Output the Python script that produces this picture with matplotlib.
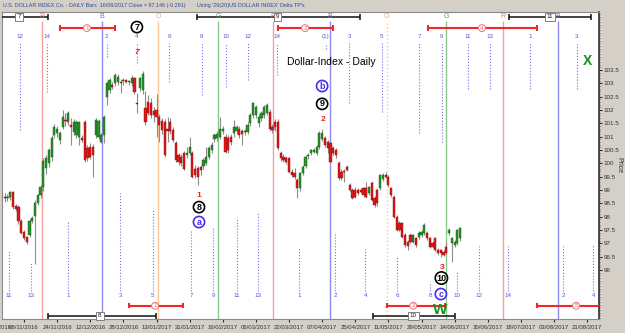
import numpy as np
import matplotlib.pyplot as plt

plt.rcParams['font.family'] = ['Liberation Sans', 'DejaVu Sans']

# daily bars, first bar sits 8 sessions before 08/11/2016
first_bar = -8
opens = [98.72, 98.74, 98.70, 98.72, 98.92, 98.40, 98.36, 97.82, 97.42, 97.22, 97.30, 97.84,
         98.02, 98.50, 98.80, 99.10, 99.82, 100.00, 100.25, 101.06, 101.13, 100.88, 101.38, 101.62,
         101.56, 101.42, 101.19, 101.06, 101.00, 100.94, 101.56, 100.56, 100.63, 100.60, 101.06, 101.00,
         100.81, 101.06, 102.50, 102.75, 102.92, 103.00, 103.06, 103.06, 103.08, 103.12, 103.04, 103.00,
         103.19, 102.28, 102.81, 102.75, 102.06, 102.30, 102.25, 101.95,
         102.00, 101.75, 101.60, 101.56, 101.30, 101.56, 101.25, 100.75, 100.30, 100.25, 100.38, 100.30,
         100.40, 100.38, 99.80, 99.81, 99.88, 99.90, 100.00, 100.25, 100.50, 100.90, 100.95, 101.00,
         101.20, 101.00, 100.94, 100.98, 101.13, 101.20, 101.30, 101.20, 101.18, 101.19, 101.50, 101.80,
         101.80, 101.50, 101.70, 101.80, 101.88, 101.94, 101.38, 101.56, 101.56, 100.38, 100.25, 100.19,
         100.19, 99.69, 99.63, 99.38, 99.06, 99.63, 99.90,
         100.28, 100.38, 100.44, 100.40, 100.63, 100.90, 100.94, 100.81, 100.75, 100.56, 100.50, 100.00,
         99.69, 99.72, 99.88, 99.19, 99.00, 99.00, 99.00, 99.00, 99.06, 99.06, 98.90, 99.25,
         98.70, 99.00, 99.06, 99.40, 99.56, 99.50, 99.06, 98.75, 98.00, 97.75, 97.75, 97.30,
         97.06, 97.30, 97.06, 97.19, 97.25, 97.30, 97.38, 97.38, 97.19, 97.00, 97.19, 96.75,
         96.75, 96.69, 96.88, 97.40, 97.00, 96.94, 97.00, 97.19]
highs = [98.85, 98.88, 98.85, 98.98, 98.98, 98.48, 98.42, 97.90, 97.50, 97.28, 97.92, 98.02,
         98.62, 98.86, 99.18, 100.20, 100.30, 100.58, 101.05, 101.48, 101.40, 101.20, 102.00, 101.90,
         101.95, 101.70, 101.65, 101.62, 101.60, 101.05, 101.62, 100.70, 100.75, 100.72, 101.70, 101.68,
         101.12, 101.80, 103.05, 103.20, 103.05, 103.40, 103.35, 103.15, 103.20, 103.18, 103.12, 103.30,
         103.25, 102.65, 103.25, 103.45, 102.70, 102.55, 102.45, 102.10,
         102.60, 101.85, 101.70, 101.65, 101.75, 101.70, 101.35, 100.85, 100.40, 100.35, 100.48, 100.63,
         101.00, 100.45, 99.95, 99.90, 99.95, 100.20, 100.60, 100.65, 100.80, 101.12, 101.20, 101.75,
         101.40, 101.10, 101.05, 101.10, 101.63, 101.45, 101.40, 101.28, 101.30, 101.55, 101.90, 102.30,
         102.20, 101.85, 101.95, 102.20, 102.25, 102.05, 101.48, 101.65, 101.65, 100.48, 100.35, 100.28,
         100.25, 99.78, 99.81, 99.45, 99.68, 99.95, 100.30,
         100.40, 100.55, 100.58, 100.68, 101.20, 101.28, 101.02, 100.88, 100.82, 100.65, 100.58, 100.08,
         99.78, 99.80, 99.95, 99.25, 99.08, 99.10, 99.08, 99.06, 99.12, 99.30, 99.15, 99.32,
         98.78, 99.08, 99.60, 99.62, 99.69, 99.58, 99.12, 98.82, 98.08, 97.82, 97.80, 97.38,
         97.12, 97.38, 97.36, 97.25, 97.45, 97.50, 97.75, 97.45, 97.25, 97.08, 97.25, 96.82,
         96.80, 96.75, 97.06, 97.58, 97.25, 97.12, 97.55, 97.60]
lows = [98.60, 98.55, 98.58, 98.62, 98.30, 98.22, 97.72, 97.34, 97.14, 96.98, 97.22, 97.76,
        96.24, 98.42, 98.70, 98.95, 99.60, 99.88, 100.10, 100.95, 101.00, 100.72, 101.30, 101.40,
        101.45, 100.70, 101.05, 100.95, 100.70, 100.80, 100.05, 100.10, 100.15, 99.50, 100.95, 100.90,
        100.75, 100.75, 102.19, 102.65, 102.80, 102.90, 102.95, 102.63, 102.95, 103.00, 102.95, 102.90,
        102.60, 101.90, 102.70, 102.60, 101.45, 101.80, 101.70, 101.55,
        101.00, 100.80, 101.10, 100.25, 100.80, 101.10, 100.80, 100.05, 99.95, 99.90, 99.75, 100.20,
        100.30, 99.45, 99.45, 99.19, 99.55, 99.80, 99.92, 100.15, 100.40, 100.80, 100.85, 100.90,
        101.10, 100.38, 100.40, 100.70, 101.00, 101.10, 100.95, 100.70, 101.05, 101.10, 101.40, 101.70,
        101.70, 101.38, 101.60, 101.70, 101.80, 101.20, 101.15, 101.20, 100.50, 100.10, 100.05, 99.98,
        99.62, 99.48, 99.42, 98.69, 98.98, 99.55, 99.82,
        100.15, 100.30, 100.38, 100.32, 100.55, 100.82, 100.62, 100.40, 100.00, 100.30, 100.20, 99.38,
        99.38, 99.30, 99.70, 98.95, 98.65, 98.70, 98.82, 98.88, 98.75, 98.70, 98.82, 98.58,
        98.38, 98.40, 99.00, 99.35, 99.45, 99.12, 98.75, 97.95, 97.45, 97.45, 97.20, 96.88,
        96.75, 97.00, 97.00, 96.88, 97.18, 97.22, 97.30, 97.12, 96.82, 96.82, 96.70, 96.58,
        96.50, 96.52, 96.58, 97.32, 96.30, 96.88, 96.95, 97.10]
closes = [98.74, 98.70, 98.72, 98.92, 98.38, 98.30, 97.82, 97.40, 97.20, 97.05, 97.82, 97.94,
          98.52, 98.80, 99.10, 100.10, 100.20, 100.50, 100.94, 101.38, 101.30, 101.13, 101.75, 101.58,
          101.88, 101.38, 101.56, 101.56, 101.56, 100.88, 100.13, 100.19, 100.25, 100.30, 101.63, 101.60,
          101.06, 101.75, 103.00, 103.12, 102.88, 103.31, 103.25, 103.02, 103.10, 103.05, 103.06, 103.19,
          102.69, 102.22, 103.19, 103.36, 101.56, 101.90, 101.81, 101.80,
          101.75, 101.45, 101.25, 100.30, 101.20, 101.20, 100.88, 100.13, 100.06, 100.00, 99.80, 100.40,
          100.60, 99.50, 99.55, 99.50, 99.75, 100.13, 100.25, 100.56, 100.70, 101.06, 101.10, 101.30,
          101.30, 100.44, 100.50, 100.81, 101.38, 101.38, 101.06, 101.10, 101.20, 101.44, 101.80, 102.25,
          102.10, 101.75, 101.88, 102.10, 102.19, 101.30, 101.25, 101.38, 100.56, 100.19, 100.13, 100.06,
          99.69, 99.56, 99.50, 99.06, 99.63, 99.88, 100.25,
          100.32, 100.50, 100.50, 100.63, 101.13, 101.13, 100.69, 100.56, 100.06, 100.38, 100.30, 99.44,
          99.44, 99.68, 99.75, 99.00, 98.70, 98.75, 98.88, 98.94, 98.81, 98.75, 99.10, 98.63,
          98.44, 98.50, 99.56, 99.56, 99.50, 99.19, 98.81, 98.00, 97.50, 97.50, 97.25, 96.94,
          96.90, 97.06, 97.30, 96.94, 97.38, 97.44, 97.70, 97.19, 96.88, 96.88, 96.75, 96.63,
          96.63, 96.56, 96.63, 97.50, 97.19, 97.06, 97.50, 97.56]

# date axis: one label every 12 sessions
date_ticks = list(range(0, 205, 12))
date_labels = ['08/11/2016', '24/11/2016', '12/12/2016', '28/12/2016', '13/01/2017', '31/01/2017',
               '16/02/2017', '06/03/2017', '22/03/2017', '07/04/2017', '25/04/2017', '11/05/2017',
               '29/05/2017', '14/06/2017', '30/06/2017', '18/07/2017', '03/08/2017', '21/08/2017']
price_ticks = [96, 96.5, 97, 97.5, 98, 98.5, 99, 99.5, 100, 100.5, 101, 101.5, 102, 102.5, 103, 103.5]

# cycle lines (bar position, letter)
cycle_pos = [6.4, 28.2, 48.6, 70.3, 90.2, 110.9, 131.4, 152.9, 173.6, 193.5]
cycle_letters = ['R', 'B', 'O', 'G', 'R', 'B', 'O', 'G', 'R', 'B']
cycle_colors = {'R': '#f4a0a0', 'B': '#8c8cf0', 'O': '#f9c89a', 'G': '#8cc88c'}
cycle_text = {'R': '#f07070', 'B': '#6a6af0', 'O': '#f0a060', 'G': '#50a850'}

# delta turning points hanging from the top
top_tp_pos = [-1.4, 8.2, 30.0, 40.8, 52.5, 64.4, 73.2, 81.2, 91.7, 109.4, 117.8, 129.6, 143.1,
              151.3, 160.9, 168.8, 183.3, 200.2]
top_tp_labels = ['12', '14', '2', '4', '6', '8', '10', '12', '14', '(1)', '3', '5', '7', '9',
                 '11', '13', '1', '3']
top_tp_end = [101.25, 102.68, 103.99, 103.76, 103.05, 102.56, 102.86, 103.13, 103.31, 104.3,
              102.26, 101.93, 101.14, 100.80, 102.79, 102.79, 102.79, 102.79]
# delta turning points standing on the bottom
bot_tp_pos = [-5.4, 2.5, 16.1, 34.8, 46.7, 60.5, 68.5, 77.2, 84.8, 99.6, 112.7, 123.6, 135.1,
              147.1, 156.9, 164.9, 175.4, 195.3, 206.2]
bot_tp_labels = ['11', '13', '1', '3', '5', '7', '9', '11', '13', '1', '2', '4', '6', '8', '10',
                 '12', '14', '2', '4']
bot_tp_end = [96.75, 96.26, 97.80, 98.89, 98.25, 97.50, 97.58, 97.99, 98.14, 96.83, 97.43, 96.79,
              96.49, 95.55, 95.93, 96.90, 96.90, 96.90, 96.94]

# range bars: (start, end, label position, label)
black_top = [(-9.0, 8.7, -1.8, '7'), (62.7, 121.7, 91.7, '9'), (175.7, 205.4, 190.6, '11')]
black_bot = [(8.7, 47.8, 27.5, '8'), (126.4, 156.2, 141.0, '10')]
red_top = [(13.0, 33.0, 22.8, '1'), (92.0, 112.0, 101.8, '2'), (146.4, 185.9, 165.9, '4')]
red_bot = [(38.0, 57.6, 47.5, '1'), (131.5, 152.5, 141.0, '3'), (185.9, 212.0, 200.0, '5')]

# wave counts
black_waves = [(40.9, 105.11, '7'), (63.4, 98.36, '8'), (108.0, 102.23, '9'), (151.2, 95.70, '10')]
blue_waves = [(63.4, 97.80, 'a'), (108.0, 102.90, 'b'), (151.0, 95.10, 'c')]
red_waves = [(40.9, 104.17, '7'), (63.4, 98.81, '1'), (108.3, 101.63, '2'), (151.4, 96.11, '3')]

fig = plt.figure(figsize=(6.25, 3.33), dpi=100, facecolor='#d4d0c8')
ax = fig.add_axes([2 / 625, 14 / 333, 597 / 625, 307 / 333])
ax.set_facecolor('white')
x0, x1 = -7.97, 208.3
y0, y1 = 94.164, 105.675
ax.set_xlim(x0, x1)
ax.set_ylim(y0, y1)

bars = np.arange(first_bar, first_bar + len(opens))
o = np.array(opens)
h = np.array(highs)
l = np.array(lows)
c = np.array(closes)

# cycle lines
for pos, let in zip(cycle_pos, cycle_letters):
    ls = ':' if (let == 'O' and pos > 100) else '-'
    ax.vlines(pos, y0, 105.34, colors=cycle_colors[let], lw=1.0, linestyles=ls, zorder=1)
    ax.text(pos, 105.49, let, color=cycle_text[let], fontsize=5, ha='center', va='center', zorder=6)

# dotted turning point markers
ax.vlines(top_tp_pos, top_tp_end, 104.52, colors='#6f6fee', lw=0.8, linestyles=':', zorder=1)
for pos, lab in zip(top_tp_pos, top_tp_labels):
    ax.text(pos, 104.74, lab, color='#5555e0', fontsize=4.5, ha='center', va='center')
ax.vlines(bot_tp_pos, 95.21, bot_tp_end, colors='#6f6fee', lw=0.8, linestyles=':', zorder=1)
for pos, lab in zip(bot_tp_pos, bot_tp_labels):
    ax.text(pos, 95.03, lab, color='#5555e0', fontsize=4.5, ha='center', va='center')

# candles
ax.vlines(bars, l, h, colors='#8c8c8c', lw=0.8, zorder=2)
up = c >= o
body_lo = np.minimum(o, c)
body_h = np.maximum(np.abs(c - o), 0.03)
ax.bar(bars[up], body_h[up], bottom=body_lo[up], width=0.8, color='#2a922a',
       edgecolor='#145814', lw=0.3, zorder=3)
ax.bar(bars[~up], body_h[~up], bottom=body_lo[~up], width=0.8, color='#e01818',
       edgecolor='#8a0c0c', lw=0.3, zorder=3)


def range_bar(a, b, mid, lab, y, kind):
    if kind == 'black':
        col, lw = '#101010', 1.1
    else:
        col, lw = '#f02828', 1.5
    ax.plot([a, b], [y, y], color=col, lw=lw, zorder=4, solid_capstyle='butt')
    ax.vlines([a, b], y - 0.1, y + 0.1, colors=col, lw=lw, zorder=4)
    if kind == 'black':
        ax.text(mid, y, lab, fontsize=4.5, ha='center', va='center', color='#202020', zorder=5,
                bbox=dict(boxstyle='square,pad=0.3', fc='white', ec='#808080', lw=0.7))
    else:
        ax.text(mid, y, lab, fontsize=4.5, ha='center', va='center', color='#f06060', zorder=5,
                bbox=dict(boxstyle='circle,pad=0.15', fc='white', ec='#f07070', lw=0.7))


for a, b, mid, lab in black_top:
    range_bar(a, b, mid, lab, 105.49, 'black')
for a, b, mid, lab in black_bot:
    range_bar(a, b, mid, lab, 94.28, 'black')
for a, b, mid, lab in red_top:
    range_bar(a, b, mid, lab, 105.07, 'red')
for a, b, mid, lab in red_bot:
    range_bar(a, b, mid, lab, 94.66, 'red')

for x, y, lab in black_waves:
    ax.text(x, y, lab, fontsize=6.5, ha='center', va='center', color='black', fontweight='bold',
            zorder=6, bbox=dict(boxstyle='circle,pad=0.12', fc='white', ec='black', lw=1.2))
for x, y, lab in blue_waves:
    ax.text(x, y, lab, fontsize=6.5, ha='center', va='center', color='#4a2af0', fontweight='bold',
            zorder=6, bbox=dict(boxstyle='circle,pad=0.12', fc='white', ec='#4a2af0', lw=1.2))
for x, y, lab in red_waves:
    ax.text(x, y, lab, fontsize=6, ha='center', va='center', color='#e82020', fontweight='bold',
            style='italic' if lab == '7' else 'normal', zorder=6)

ax.text(150.7, 94.50, 'W', fontsize=11, fontweight='bold', color='#1e8c1e', ha='center',
        va='center', zorder=6)
ax.text(204.3, 103.85, 'X', fontsize=10, fontweight='bold', color='#1e8c1e', ha='center',
        va='center', zorder=6)
ax.text(95.3, 103.8, 'Dollar-Index - Daily', fontsize=7.5, color='black', ha='left', va='center',
        zorder=6)

# axes styling
for side in ['top', 'left', 'bottom']:
    ax.spines[side].set_color('#8a8a8a')
    ax.spines[side].set_linewidth(0.8)
ax.spines['right'].set_color('#303030')
ax.spines['right'].set_linewidth(1.2)
ax.yaxis.tick_right()
ax.set_yticks(price_ticks)
ax.set_yticklabels(['%g' % p for p in price_ticks])
ax.set_yticks(np.arange(94.2, 105.7, 0.1), minor=True)
ax.tick_params(axis='y', which='major', labelsize=4.5, length=2, pad=1.5, colors='#303030')
ax.tick_params(axis='y', which='minor', length=1, color='#303030')
ax.set_xticks(date_ticks)
ax.set_xticklabels(date_labels)
ax.tick_params(axis='x', labelsize=4.3, length=2, pad=2, colors='#303030')
# partial label of the session before the window, cut by the edge as in the source
ax.text(-10, -0.018, '25/10/2016', transform=ax.get_xaxis_transform(), fontsize=4.3,
        color='#303030', ha='center', va='top', clip_on=False)

fig.text(619 / 625, 1 - 165 / 333, 'Price', rotation=270, fontsize=5, color='#303030',
         ha='center', va='center')
fig.text(3 / 625, 1 - 5 / 333, 'U.S. DOLLAR INDEX Co. - DAILY Bars  16/06/2017 Close = 97.146 (-0.291)',
         fontsize=3.9, color='#2a4aa0', ha='left', va='center')
fig.text(197 / 625, 1 - 5 / 333, "Using '29(20)US DOLLAR INDEX' Delta TP's",
         fontsize=3.9, color='#2a4aa0', ha='left', va='center')

fig.savefig('out.png', dpi=100, facecolor=fig.get_facecolor())
